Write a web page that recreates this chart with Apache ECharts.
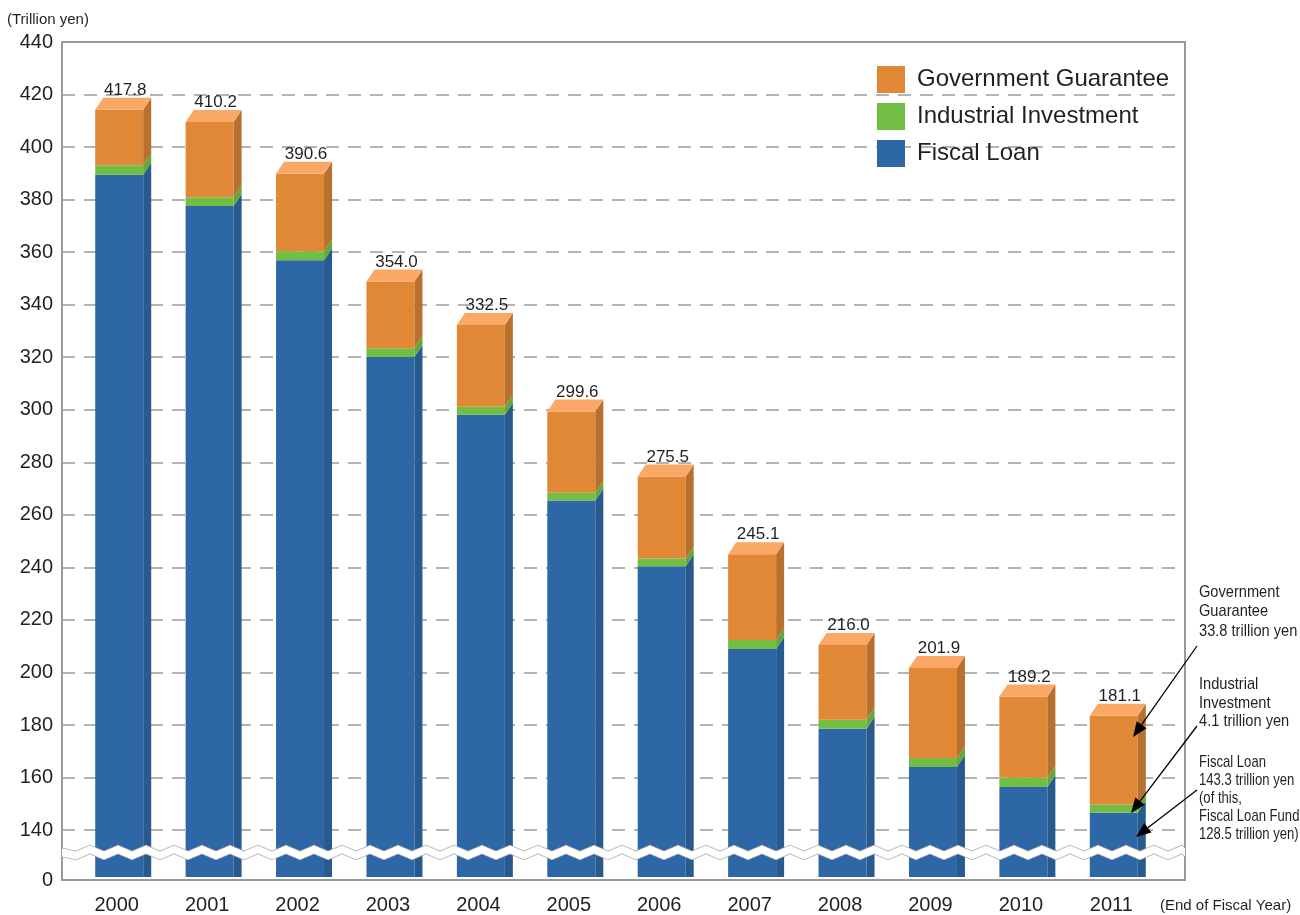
<!DOCTYPE html>
<html>
<head>
<meta charset="utf-8">
<title>FILP outstanding</title>
<script src="https://cdn.jsdelivr.net/npm/echarts@6.0.0/dist/echarts.min.js"></script>
<style>
  html, body { margin: 0; padding: 0; background: #fff; }
  #chart { width: 1300px; height: 915px; }
</style>
</head>
<body>
<div id="chart"></div>
<script>
// values (trillion yen)
var years = ['2000', '2001', '2002', '2003', '2004', '2005', '2006', '2007', '2008', '2009', '2010', '2011'];
var fiscalLoan = [389.3, 377.3, 356.6, 319.7, 297.6, 264.8, 239.7, 208.1, 177.6, 163.0, 155.4, 145.5];
var industrialInvestment = [3.6, 3.4, 3.5, 3.3, 3.1, 3.0, 3.0, 3.4, 3.5, 3.5, 3.5, 3.2];
var governmentGuarantee = [21.2, 28.7, 29.6, 25.5, 31.2, 31.0, 31.3, 32.8, 28.5, 34.3, 31.1, 33.9];
var totalLabels = ['417.8', '410.2', '390.6', '354.0', '332.5', '299.6', '275.5', '245.1', '216.0', '201.9', '189.2', '181.1'];
var yTicks = [0, 140, 160, 180, 200, 220, 240, 260, 280, 300, 320, 340, 360, 380, 400, 420, 440];

var FONT = "'Liberation Sans', Arial, sans-serif";
var BAR_W = 48, SHIFT = 12, DX = 8, DY = 12;

// stacked segments -> [index, base, top]
function segments(vals, below) {
  return vals.map(function (v, i) {
    var base = below ? below[i] : 0;
    return [i, base, base + v];
  });
}
var fiscalSeg = segments(fiscalLoan);
var fiscalTop = fiscalSeg.map(function (d) { return d[2]; });
var industrialSeg = segments(industrialInvestment, fiscalTop);
var industrialTop = industrialSeg.map(function (d) { return d[2]; });
var guaranteeSeg = segments(governmentGuarantee, industrialTop);

function makeRender(front, side, topFace) {
  return function (params, api) {
    var i = api.value(0);
    var lo = api.coord([i, api.value(1)]);
    var hi = api.coord([i, api.value(2)]);
    var x = lo[0] - BAR_W / 2 + SHIFT;
    var xr = x + BAR_W;
    var yb = lo[1], yt = hi[1];
    var ybSide = api.value(1) > 0 ? yb - DY : yb;
    var children = [
      { type: 'rect', shape: { x: x, y: yt, width: BAR_W, height: yb - yt }, style: { fill: front } },
      { type: 'polygon', shape: { points: [[xr, yt], [xr + DX, yt - DY], [xr + DX, ybSide], [xr, yb]] }, style: { fill: side } }
    ];
    if (topFace) {
      children.push({ type: 'polygon', shape: { points: [[x, yt], [x + DX, yt - DY], [xr + DX, yt - DY], [xr, yt]] }, style: { fill: topFace } });
      children.push({
        type: 'text',
        style: {
          text: totalLabels[params.dataIndex], x: x + (BAR_W + DX) / 2 + 2, y: yt - DY + 1,
          align: 'center', verticalAlign: 'bottom', fontSize: 17, fontFamily: FONT, fill: '#231f20'
        }
      });
    }
    return { type: 'group', children: children };
  };
}

function arrow(x1, y1, x2, y2) {
  var ang = Math.atan2(y2 - y1, x2 - x1);
  var len = 15, half = 6;
  var bx = x2 - len * Math.cos(ang), by = y2 - len * Math.sin(ang);
  var px = -Math.sin(ang) * half, py = Math.cos(ang) * half;
  return [
    { type: 'line', z: 120, shape: { x1: x1, y1: y1, x2: bx, y2: by }, style: { stroke: '#000', lineWidth: 1.3 } },
    { type: 'polygon', z: 120, shape: { points: [[x2, y2], [bx + px, by + py], [bx - px, by - py]] }, style: { fill: '#000' } }
  ];
}

// condensed-looking side notes (no narrow font installed, so squeeze horizontally)
function note(text, x, y, lh, sx) {
  return {
    type: 'text', z: 120, x: x, y: y, scaleX: sx,
    style: { text: text, x: 0, y: 0, fontSize: 17, lineHeight: lh, fontFamily: FONT, fill: '#231f20' }
  };
}

var yBreaks = [{ start: 9, end: 133, gap: 3 }];
var breakArea = {
  show: true,
  itemStyle: { color: '#fff', borderColor: '#aaa', borderWidth: 1.5, borderType: 'solid', opacity: 1 },
  zigzagAmplitude: 3,
  zigzagMinSpan: 14,
  zigzagMaxSpan: 14,
  zigzagZ: 100,
  expandOnClick: false
};

var option = {
  backgroundColor: '#fff',
  animation: false,
  title: [
    { text: '(Trillion yen)', left: 7, top: 12, padding: 0, textStyle: { fontSize: 15, fontWeight: 'normal', color: '#231f20', fontFamily: FONT } },
    { text: '(End of Fiscal Year)', left: 1160, top: 898, padding: 0, textStyle: { fontSize: 15, fontWeight: 'normal', color: '#231f20', fontFamily: FONT } }
  ],
  legend: {
    orient: 'vertical', left: 872, top: 61, itemWidth: 28, itemHeight: 27, itemGap: 10,
    icon: 'rect', selectedMode: false,
    data: ['Government Guarantee', 'Industrial Investment', 'Fiscal Loan'],
    textStyle: { fontSize: 24, color: '#231f20', fontFamily: FONT, padding: [0, 0, 0, 7] }
  },
  grid: [
    { left: 62, top: 42, width: 1123, height: 838, show: true, borderColor: '#9a9a9a', borderWidth: 2, backgroundColor: 'transparent' },
    { left: 62, top: 42, width: 1085, height: 838 }
  ],
  xAxis: [
    { gridIndex: 0, type: 'value', min: 0, max: 1, show: false },
    {
      gridIndex: 1, type: 'category', data: years,
      axisLine: { show: false }, axisTick: { show: false },
      axisLabel: { fontSize: 20, color: '#231f20', fontFamily: FONT, margin: 18, padding: [0, 0, 0, 19] }
    }
  ],
  yAxis: [
    {
      gridIndex: 0, type: 'value', min: 0, max: 440, interval: 20,
      breaks: yBreaks, breakArea: breakArea,
      axisLine: { show: true, lineStyle: { color: '#9a9a9a', width: 2 } },
      axisTick: { show: false, customValues: yTicks },
      axisLabel: { fontSize: 20, color: '#231f20', fontFamily: FONT, margin: 9, customValues: yTicks },
      splitLine: { show: true, showMinLine: false, showMaxLine: false, lineStyle: { color: '#9a9a9a', width: 1.5, type: [13, 9] } }
    },
    {
      gridIndex: 1, type: 'value', min: 0, max: 440, interval: 20,
      breaks: yBreaks, breakArea: { show: false },
      axisLine: { show: false }, axisTick: { show: false }, axisLabel: { show: false }, splitLine: { show: false }
    }
  ],
  series: [
    {
      name: 'Fiscal Loan', type: 'custom', xAxisIndex: 1, yAxisIndex: 1,
      itemStyle: { color: '#2e67a6' }, encode: { x: 0, y: 2 },
      renderItem: makeRender('#2e67a6', '#285a90'), data: fiscalSeg
    },
    {
      name: 'Industrial Investment', type: 'custom', xAxisIndex: 1, yAxisIndex: 1,
      itemStyle: { color: '#72be44' }, encode: { x: 0, y: 2 },
      renderItem: makeRender('#72be44', '#62a83a'), data: industrialSeg
    },
    {
      name: 'Government Guarantee', type: 'custom', xAxisIndex: 1, yAxisIndex: 1,
      itemStyle: { color: '#e08836' }, encode: { x: 0, y: 2 },
      renderItem: makeRender('#e08836', '#b8702e', '#f9a866'), data: guaranteeSeg
    }
  ],
  graphic: [].concat(
    note('Government\nGuarantee\n33.8 trillion yen', 1199, 583, 19.2, 0.86),
    note('Industrial\nInvestment\n4.1 trillion yen', 1199, 675, 18.7, 0.86),
    note('Fiscal Loan\n143.3 trillion yen\n(of this,\nFiscal Loan Fund\n128.5 trillion yen)', 1199, 753, 18.1, 0.77),
    arrow(1197, 646, 1133, 737),
    arrow(1197, 726, 1131, 813),
    arrow(1197, 790, 1136, 837)
  )
};

var myChart = echarts.init(document.getElementById('chart'));
myChart.setOption(option);
window.addEventListener('resize', function () { myChart.resize(); });
</script>
</body>
</html>
